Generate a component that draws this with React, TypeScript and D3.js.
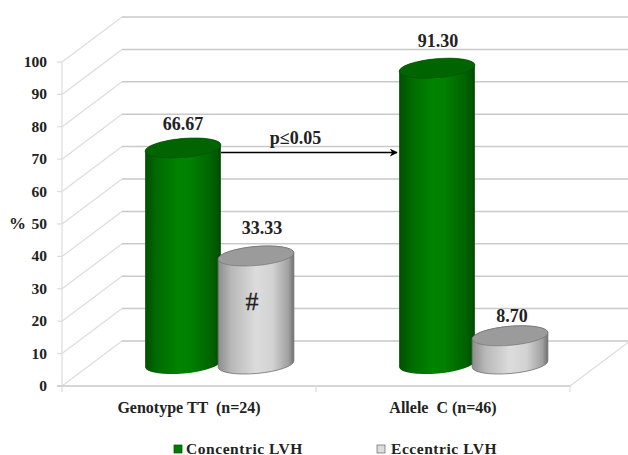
import React from "react";
import * as d3 from "d3";

const categories = ["Genotype TT  (n=24)", "Allele  C (n=46)"];
const seriesNames = ["Concentric LVH", "Eccentric LVH"];
const concentric = [66.67, 91.3];
const eccentric = [33.33, 8.7];
const valueTicks = [0, 10, 20, 30, 40, 50, 60, 70, 80, 90, 100];

const W = 628;
const H = 455;
const FONT = '"Liberation Serif", "Times New Roman", serif';

// Front edge of the 3D box and the shift to its back wall.
const front = { left: 62, right: 570, base: 386 };
const depth = { dx: 60, dy: -45 };
const unit = 3.24;

const yFront = d3.scaleLinear().domain([0, 100]).range([front.base, front.base - 100 * unit]);
const xBand = d3.scaleBand<number>().domain([0, 1]).range([front.left, front.right]);
const xSeries = d3.scaleBand<number>().domain([0, 1]).range([-73, 73]);

const series = [concentric, eccentric];
const rx = 38;
const ry = 9.5;
const tilt = -5;
const tiltRad = (tilt * Math.PI) / 180;
const floorShift = { dx: 30.5, dy: -22 };

// Hand-placed value labels, relative to the centre of each cylinder top.
const labelShift = [
  [{ dx: 0, dy: -18 }, { dx: 1, dy: -21 }],
  [{ dx: 6, dy: -22 }, { dx: 2, dy: -14 }],
];

const fmt = d3.format(".2f");

function cylinder(cx: number, yBase: number, yTop: number) {
  const ex = rx * Math.cos(tiltRad);
  const ey = rx * Math.sin(tiltRad);
  const body = d3.path();
  body.moveTo(cx - ex, yTop - ey);
  body.lineTo(cx - ex, yBase - ey);
  const arcs = `A${rx} ${ry} ${tilt} 0 0 ${cx + ex} ${yBase + ey}`;
  const back = `A${rx} ${ry} ${tilt} 0 0 ${cx - ex} ${yTop - ey}`;
  return `${body.toString()}${arcs}L${cx + ex} ${yTop + ey}${back}Z`;
}

function Gradient({ id, stops }: { id: string; stops: [number, string][] }) {
  return (
    <linearGradient id={id} x1="0" x2="1" y1="0" y2="0">
      {stops.map(([o, c]) => (
        <stop key={o} offset={o} stopColor={c} />
      ))}
    </linearGradient>
  );
}

export default function App() {
  const topFill = ["#006400", "#9b9b9b"];
  const edge = ["#005000", "#6f6f6f"];
  const grid = "#c9c9c9";
  const side = "#dcdcdc";

  const bars = [0, 1].flatMap((c) =>
    [0, 1].map((s) => {
      const cx = (xBand(c) as number) + xBand.bandwidth() / 2 + floorShift.dx + (xSeries(s) as number) + xSeries.bandwidth() / 2;
      const yBase = front.base + floorShift.dy;
      const yTop = yBase - series[s][c] * unit;
      return { c, s, cx, yBase, yTop, value: series[s][c] };
    })
  );

  const arrowY = 152.5;
  const first = bars[0];
  const target = bars[2];

  return (
    <svg
      width={W}
      height={H}
      viewBox={`0 0 ${W} ${H}`}
      style={{ position: "absolute", left: 0, top: 0, background: "#fff" }}
      fontFamily={FONT}
      fontWeight="bold"
    >
      <defs>
        <Gradient
          id="greenBody"
          stops={[
            [0, "#004f00"],
            [0.16, "#006b00"],
            [0.45, "#008400"],
            [0.6, "#007f00"],
            [0.88, "#006200"],
            [1, "#004a00"],
          ]}
        />
        <Gradient
          id="grayBody"
          stops={[
            [0, "#8d8d8d"],
            [0.18, "#b9b9b9"],
            [0.5, "#dcdcdc"],
            [0.72, "#d2d2d2"],
            [0.93, "#a0a0a0"],
            [1, "#707070"],
          ]}
        />
        <marker id="arrowHead" viewBox="0 0 10 10" refX="9" refY="5" markerWidth="8" markerHeight="8" orient="auto" markerUnits="userSpaceOnUse">
          <path d="M0 0L10 5L0 10L3 5Z" fill="#000" />
        </marker>
      </defs>

      {/* Side wall, back wall and floor */}
      {valueTicks.map((t) => {
        const y = yFront(t);
        return (
          <g key={t} fill="none">
            <line x1={front.left} y1={y} x2={front.left + depth.dx} y2={y + depth.dy} stroke={side} strokeWidth={1.2} />
            <line x1={front.left + depth.dx} y1={y + depth.dy} x2={W} y2={y + depth.dy} stroke={grid} strokeWidth={1.5} />
            <line x1={front.left - 5} y1={y} x2={front.left} y2={y} stroke={side} strokeWidth={1.2} />
          </g>
        );
      })}
      <line x1={front.left} y1={yFront(0)} x2={front.left} y2={yFront(100)} stroke={side} strokeWidth={1.2} />
      <line x1={front.left - 5} y1={front.base} x2={front.right} y2={front.base} stroke={grid} strokeWidth={1.5} />
      <line x1={front.right} y1={front.base} x2={front.right + depth.dx} y2={front.base + depth.dy} stroke={side} strokeWidth={1.2} />
      {[front.left, xBand(1) as number, front.right].map((x) => (
        <line key={x} x1={x} y1={front.base} x2={x} y2={front.base + 6} stroke={side} strokeWidth={1.2} />
      ))}

      {/* Value axis labels */}
      {valueTicks.map((t) => (
        <text key={t} x={47} y={yFront(t) + 5} textAnchor="end" fontSize={15.5} fill="#222">
          {t}
        </text>
      ))}
      <text x={9} y={228.5} fontSize={17} fill="#222">%</text>

      {/* Cylinders */}
      {bars.map((b) => (
        <g key={`${b.c}-${b.s}`}>
          <path d={cylinder(b.cx, b.yBase, b.yTop)} fill={`url(#${b.s === 0 ? "greenBody" : "grayBody"})`} stroke={b.s === 1 ? edge[1] : "none"} strokeWidth={0.8} />
          <ellipse
            cx={0}
            cy={0}
            rx={rx}
            ry={ry}
            transform={`translate(${b.cx},${b.yTop}) rotate(${tilt})`}
            fill={topFill[b.s]}
            stroke={edge[b.s]}
            strokeWidth={0.6}
          />
        </g>
      ))}

      {/* Value labels */}
      {bars.map((b) => {
        const shift = labelShift[b.s][b.c];
        return (
          <text key={`v${b.c}-${b.s}`} x={b.cx + shift.dx} y={b.yTop + shift.dy} textAnchor="middle" fontSize={18} fill="#222">
            {fmt(b.value)}
          </text>
        );
      })}

      {/* Significance arrow between the two concentric cylinders */}
      <line x1={first.cx + rx} y1={arrowY} x2={target.cx - rx - 2} y2={arrowY} stroke="#000" strokeWidth={1.3} markerEnd="url(#arrowHead)" />
      <text x={295.5} y={144} textAnchor="middle" fontSize={18} fill="#222">p≤0.05</text>
      <text x={bars[1].cx - 4} y={310} textAnchor="middle" fontSize={26} fontWeight="normal" stroke="#222" strokeWidth={0.3} fill="#222">#</text>

      {/* Category labels */}
      {categories.map((c, i) => (
        <text
          key={c}
          x={(xBand(i) as number) + xBand.bandwidth() / 2}
          y={413}
          textAnchor="middle"
          fontSize={16}
          fill="#222"
          style={{ whiteSpace: "pre" }}
        >
          {c}
        </text>
      ))}

      {/* Legend */}
      {seriesNames.map((name, i) => {
        const x = [174, 377][i];
        const textX = [186, 391][i];
        return (
          <g key={name}>
            <rect x={x} y={445} width={8} height={8} fill={i === 0 ? "#007a00" : "#dcdcdc"} stroke={i === 0 ? "#005000" : "#666"} strokeWidth={0.7} />
            <text x={textX} y={453.5} fontSize={15.5} letterSpacing={0.55} fill="#222">
              {name}
            </text>
          </g>
        );
      })}
    </svg>
  );
}
